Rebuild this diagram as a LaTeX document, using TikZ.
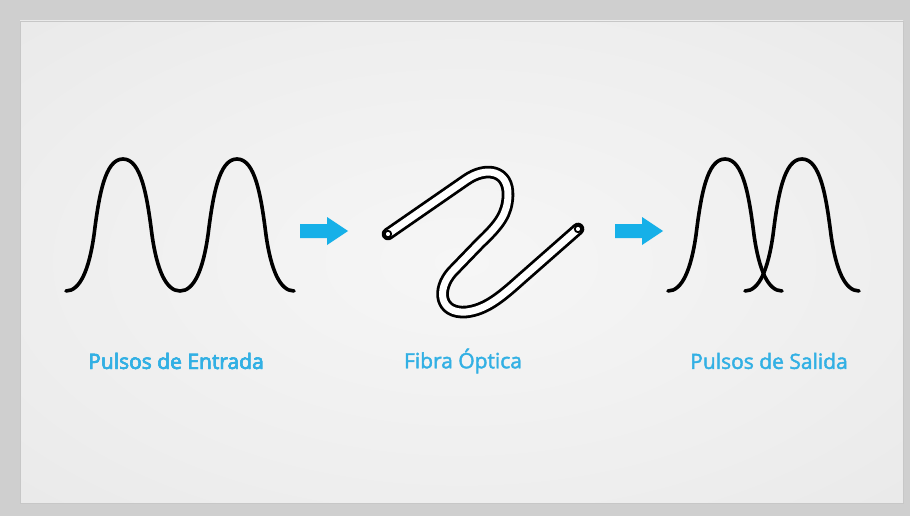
\documentclass[tikz,border=0pt]{standalone}
\usepackage{fontspec}
\setmainfont{Open Sans}
\newfontfamily\labelfont[FakeBold=2]{Open Sans}
\usepackage{tikz}
\usetikzlibrary{arrows.meta,calc}
\definecolor{framegray}{RGB}{207,207,207}
\definecolor{paneledge}{RGB}{228,228,228}
\definecolor{panelmid}{RGB}{246,246,246}
\definecolor{signalblue}{RGB}{22,176,232}
\definecolor{labelblue}{RGB}{50,176,228}
\pgfdeclareradialshading{panelglow}{\pgfpoint{0bp}{0bp}}{%
  color(0bp)=(panelmid); color(25bp)=(panelmid!55!paneledge);
  color(50bp)=(paneledge); color(100bp)=(paneledge)}
% blue block arrow, #1 = middle of its tail
\newcommand{\blockarrow}[1]{%
  \fill[signalblue] ($(#1)+(0,-7)$) -- ++(27,0) -- ++(0,-7) -- ++(21,14)
    -- ++(-21,14) -- ++(0,-7) -- ++(-27,0) -- cycle;}
% one pulse with its peak at x = #1
\newcommand{\pulseat}[1]{%
  \draw[pulse] (#1-57,291) .. controls (#1-43,291) and (#1-34,270) .. (#1-29,235)
    .. controls (#1-24,195) and (#1-18,159) .. (#1,159)
    .. controls (#1+18,159) and (#1+24,195) .. (#1+29,235)
    .. controls (#1+34,270) and (#1+43,291) .. (#1+57,291);}

\begin{document}
\begin{tikzpicture}[
  x=1pt, y=-1pt, >=Latex,
  pulse/.style={line width=3.6pt, line join=round, line cap=round},
  fiber/.style={line width=2.8pt, double=white, double distance=7pt,
    line cap=round, line join=round},
  caption/.style={text=labelblue, font=\labelfont\fontsize{21}{23}\selectfont}
]
  \useasboundingbox (0,0) rectangle (910,516);
  % frame and panel
  \fill[framegray] (0,0) rectangle (910,516);
  \shade[shading=panelglow] (20,21) rectangle (903,503);
  \draw[black!22, line width=0.8pt] (20,21) rectangle (903,503);
  % input pulses
  \foreach \c in {123,237}
    \pulseat{\c}
  \coordinate (arrA) at (300,231);
  \blockarrow{arrA}
  % optical fibre
  \coordinate (fibA) at (388,234);
  \coordinate (fibB) at (578,229);
  \draw[fiber] (fibA) -- (466,180) .. controls (486,166) and (509,170) .. (508,196)
    .. controls (507,214) and (500,224) .. (480,243) -- (452,272)
    .. controls (436,290) and (440,314) .. (466,312)
    .. controls (485,310) and (500,298) .. (520,280) -- (fibB);
  \foreach \e in {fibA,fibB}
    \draw[line width=1.8pt, fill=white] (\e) circle (3.2pt);
  \coordinate (arrB) at (615,231);
  \blockarrow{arrB}
  % output pulses, overlapping
  \foreach \c in {725,802}
    \pulseat{\c}
  % captions
  \node[caption] (capIn) at (176,361) {Pulsos de Entrada};
  \node[caption] (capFib) at (463,361) {Fibra Óptica};
  \node[caption] (capOut) at (769,361) {Pulsos de Salida};
\end{tikzpicture}
\end{document}
